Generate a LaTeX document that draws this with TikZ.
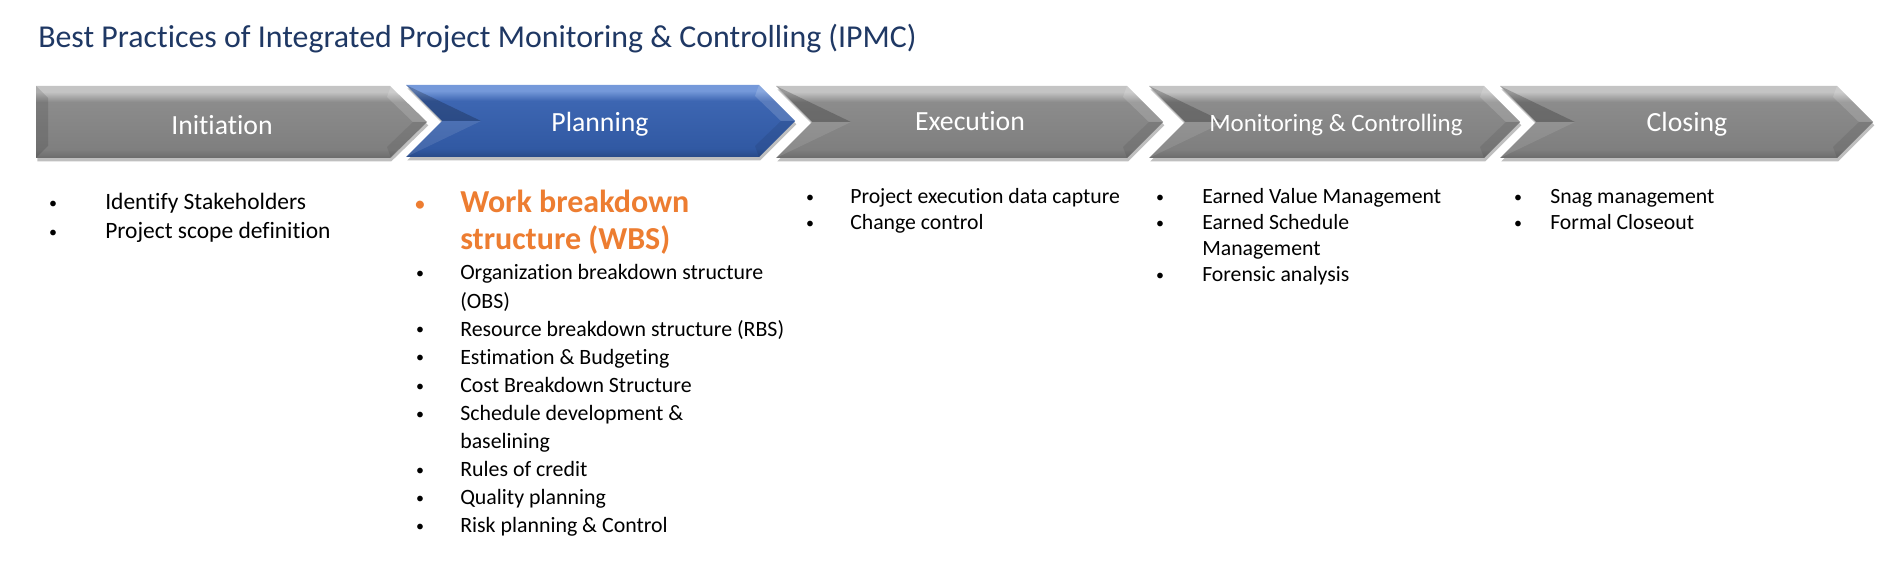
\documentclass[tikz,border=0pt]{standalone}
\usepackage{fontspec}
\setmainfont{Carlito}[Ligatures=NoCommon]
\usepackage{xcolor}
\usepackage{tikz}
\usetikzlibrary{shadows}

\definecolor{titleblue}{HTML}{1F3864}
\definecolor{wbsorange}{HTML}{ED7D31}
\definecolor{gtop}{HTML}{C4C4C4}
\definecolor{gsoft}{HTML}{8C8C8C}
\definecolor{gmid}{HTML}{7F7F7F}
\definecolor{gbot}{HTML}{6C6C6C}
\definecolor{btop}{HTML}{7599DA}
\definecolor{bsoft}{HTML}{3D66B2}
\definecolor{bmid}{HTML}{3159A3}
\definecolor{bbot}{HTML}{284A88}

\pgfdeclareverticalshading{stagegray}{100bp}{color(0bp)=(gbot); color(25bp)=(gbot); color(31bp)=(gmid); color(64bp)=(gsoft); color(71bp)=(gtop); color(100bp)=(gtop)}
\pgfdeclareverticalshading{stageblue}{100bp}{color(0bp)=(bbot); color(25bp)=(bbot); color(31bp)=(bmid); color(64bp)=(bsoft); color(71bp)=(btop); color(100bp)=(btop)}

\tikzset{
  stage/.style={shade, drop shadow={shadow xshift=1pt, shadow yshift=-2.5pt, opacity=.25, fill=black}},
  graystage/.style={stage, shading=stagegray},
  bluestage/.style={stage, shading=stageblue},
  stagelabel/.style={anchor=base, inner sep=0, text=white, font=\fontsize{#1}{#1}\selectfont},
  stagelabel/.default=20.8,
  entry/.style={anchor=base west, inner sep=0, font=\fontsize{#1}{#1}\selectfont},
  entry/.default=16.3,
  bulletmark/.style={anchor=base, inner sep=0, yshift=1pt, font=\fontsize{#1}{#1}\selectfont},
  bulletmark/.default=12,
  wbs/.style={anchor=base west, inner sep=0, text=wbsorange, font=\fontsize{24}{28}\selectfont\bfseries}
}

\begin{document}
\begin{tikzpicture}[x=0.75pt, y=-0.75pt]
  \path[use as bounding box, fill=white] (0,0) rectangle (1887,584);

  \node[anchor=base west, inner sep=0, text=titleblue, font=\fontsize{23.9}{28}\selectfont] (title) at (38,48)
    {Best Practices of Integrated Project Monitoring \& Controlling (IPMC)};

  % chevrons
  \path[graystage] (36,86) -- (390,86) -- (427,122) -- (390,158) -- (36,158) -- cycle;
  \fill[black,opacity=.12] (36,86) -- (48,98) -- (48,146) -- (36,158) -- cycle;
  \path[bluestage] (406,85) -- (759,85) -- (795,121) -- (759,157) -- (406,157) -- (442,121) -- cycle;
  \foreach \l/\r in {776/1163, 1149/1520, 1500/1873}
    \path[graystage] (\l,86) -- (\r-36,86) -- (\r,122) -- (\r-36,158) -- (\l,158) -- (\l+36,122) -- cycle;

  % bevels
  \foreach \l/\r/\t in {36/427/0, 406/795/-1, 776/1163/0, 1149/1520/0, 1500/1873/0}{
    \fill[white,opacity=.15] (\r-36,86+\t) -- (\r,122+\t) -- (\r-14,122+\t) -- (\r-40,97+\t) -- cycle;
    \fill[black,opacity=.08] (\r,122+\t) -- (\r-36,158+\t) -- (\r-40,147+\t) -- (\r-14,122+\t) -- cycle;
  }
  \foreach \l/\t in {406/-1, 776/0, 1149/0, 1500/0}{
    \fill[black,opacity=.22] (\l,86+\t) -- (\l+36,122+\t) -- (\l+75,122+\t) -- cycle;
    \fill[white,opacity=.1] (\l+36,122+\t) -- (\l,158+\t) -- (\l+75,122+\t) -- cycle;
  }

  \node[stagelabel] (ini) at (222,135) {Initiation};
  \node[stagelabel] (pla) at (600,132) {Planning};
  \node[stagelabel] (exe) at (970,131) {Execution};
  \node[stagelabel=18.7] (mon) at (1336,132) {Monitoring \& Controlling};
  \node[stagelabel] (clo) at (1687,132) {Closing};

  % initiation
  \foreach \t [count=\i from 0] in {Identify Stakeholders, Project scope definition}{
    \node[bulletmark] (inib\i) at (53,{210+29*\i}) {\textbullet};
    \node[entry=17.6] (ini\i) at (105,{210+29*\i}) {\t};
  }

  % planning
  \node[bulletmark=17, text=wbsorange] (plab) at (420,213) {\textbullet};
  \node[wbs] (wbs1) at (460,213) {Work breakdown};
  \node[wbs] (wbs2) at (460,250) {structure (WBS)};
  \foreach \t/\b [count=\i from 0] in {Organization breakdown structure/1, {(OBS)}/0,
      Resource breakdown structure (RBS)/1, Estimation \& Budgeting/1, Cost Breakdown Structure/1,
      Schedule development \&/1, baselining/0, Rules of credit/1, Quality planning/1,
      Risk planning \& Control/1}{
    \node[entry=16.4] (pla\i) at (460,{280+28.1*\i}) {\t};
    \ifnum\b=1 \node[bulletmark] (plab\i) at (420,{280+28.1*\i}) {\textbullet};\fi
  }

  % execution
  \foreach \t [count=\i from 0] in {Project execution data capture, Change control}{
    \node[bulletmark] (exeb\i) at (810,{204+26*\i}) {\textbullet};
    \node[entry] (exe\i) at (850,{204+26*\i}) {\t};
  }

  % monitoring & controlling
  \foreach \t/\b [count=\i from 0] in {Earned Value Management/1, Earned Schedule/1, Management/0, Forensic analysis/1}{
    \node[entry] (mon\i) at (1202,{204+26*\i}) {\t};
    \ifnum\b=1 \node[bulletmark] (monb\i) at (1160,{204+26*\i}) {\textbullet};\fi
  }

  % closing
  \foreach \t [count=\i from 0] in {Snag management, Formal Closeout}{
    \node[bulletmark] (clob\i) at (1518,{204+26*\i}) {\textbullet};
    \node[entry] (clo\i) at (1550,{204+26*\i}) {\t};
  }
\end{tikzpicture}
\end{document}
